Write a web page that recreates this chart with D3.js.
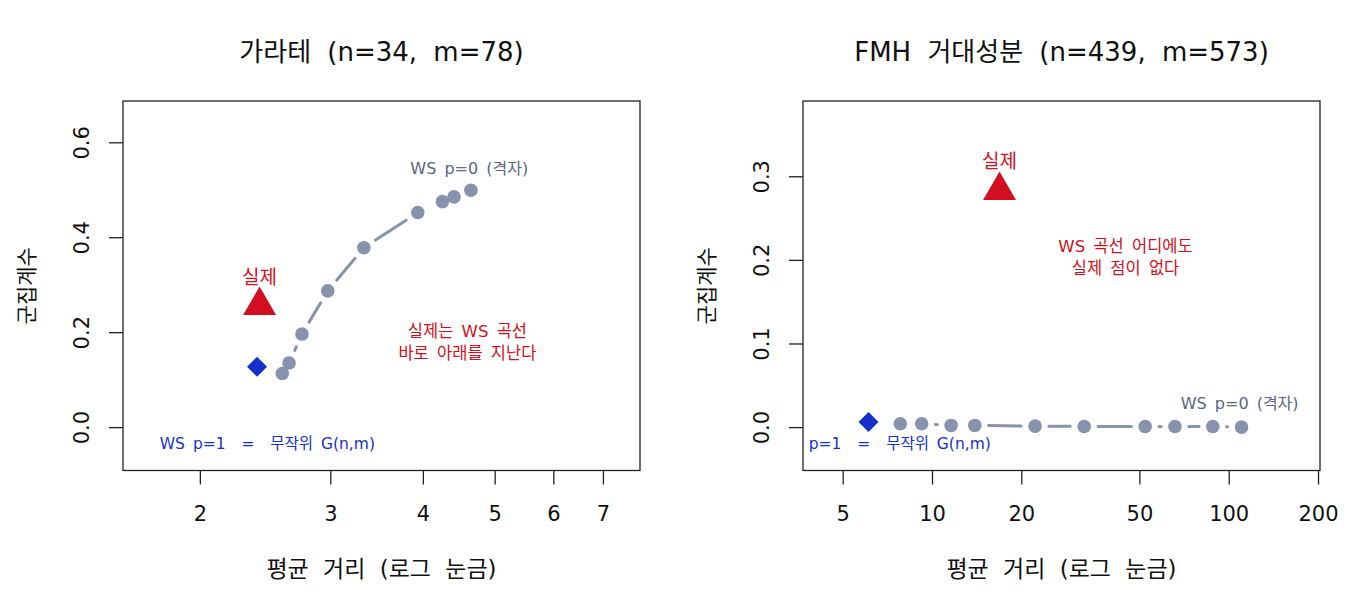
<!DOCTYPE html>
<html>
<head>
<meta charset="utf-8">
<script src="https://cdn.jsdelivr.net/npm/d3@7"></script>
<style>
  body { margin: 0; background: #fff; }
  text { font-family: "DejaVu Sans", "Noto Sans CJK KR", sans-serif; }
</style>
</head>
<body>
<div id="chart"></div>
<script>
// ---- data: karate club (left) ----
var karateWsDist = [2.584, 2.639, 2.747, 2.976, 3.330, 3.937, 4.251, 4.406, 4.644];
var karateWsClust = [0.113, 0.135, 0.196, 0.287, 0.378, 0.452, 0.475, 0.485, 0.499];
var karateRandom = [2.389, 0.127];
var karateReal = [2.408, 0.256];

// ---- data: FMH giant component (right) ----
var fmhWsDist = [7.82, 9.23, 11.60, 13.94, 22.26, 32.58, 52.3, 65.9, 88.4, 110.5];
var fmhWsClust = [0.004, 0.004, 0.002, 0.002, 0.0012, 0.0008, 0.0008, 0.0008, 0.0008, 0.0];
var fmhRandom = [6.11, 0.006];
var fmhReal = [16.89, 0.283];

// ---- tick labels ----
var karateXTicks = [2, 3, 4, 5, 6, 7];
var karateYTicks = [0.0, 0.2, 0.4, 0.6];
var fmhXTicks = [5, 10, 20, 50, 100, 200];
var fmhYTicks = [0.0, 0.1, 0.2, 0.3];

// ---- texts ----
var titles = ["가라테 (n=34, m=78)", "FMH 거대성분 (n=439, m=573)"];
var xTitle = "평균 거리 (로그 눈금)";
var yTitle = "군집계수";
var rndText = "WS p=1\u00a0\u00a0=\u00a0\u00a0무작위 G(n,m)";
var wsText = "WS p=0 (격자)";

// colours
var grey = "#8792ac";
var greyText = "#5b6580";
var red = "#d10f20";
var blue = "#1530cc";

var svg = d3.select("#chart")
    .append("svg")
    .attr("width", 1360)
    .attr("height", 600);

// one panel per graph
var panels = [
    {
        left: 123, right: 640, top: 101, bottom: 470.5,
        xDomain: [1.575, 7.855], yDomain: [-0.0914, 0.687],
        xTicks: karateXTicks, yTicks: karateYTicks,
        wsX: karateWsDist, wsY: karateWsClust,
        rnd: karateRandom, real: karateReal,
        title: titles[0],
        realLabel: [2.408, 0.317],
        wsLabel: [4.62, 0.545],
        rndLabel: [2.467, -0.0365],
        note: ["실제는 WS 곡선", "바로 아래를 지난다"],
        noteAt: [4.594, 0.1787]
    },
    {
        left: 803, right: 1320, top: 101, bottom: 470.5,
        xDomain: [3.675, 203.1], yDomain: [-0.0519, 0.390],
        xTicks: fmhXTicks, yTicks: fmhYTicks,
        wsX: fmhWsDist, wsY: fmhWsClust,
        rnd: fmhRandom, real: fmhReal,
        title: titles[1],
        realLabel: [16.89, 0.318],
        wsLabel: [108.9, 0.028],
        rndLabel: [6.85, -0.0199],
        note: ["WS 곡선 어디에도", "실제 점이 없다"],
        noteAt: [44.9, 0.2026]
    }
];

panels.forEach(function(p, i) {
    var xScale = d3.scaleLog().domain(p.xDomain).range([p.left, p.right]);
    var yScale = d3.scaleLinear().domain(p.yDomain).range([p.bottom, p.top]);
    var midX = (p.left + p.right) / 2;

    // clip to plot box
    svg.append("clipPath")
        .attr("id", "clip" + i)
        .append("rect")
        .attr("x", p.left).attr("y", p.top)
        .attr("width", p.right - p.left).attr("height", p.bottom - p.top);

    var plot = svg.append("g").attr("clip-path", "url(#clip" + i + ")");

    // WS line: like type="b", each segment stops short of the points
    var pts = p.wsX.map(function(d, j) { return [xScale(d), yScale(p.wsY[j])]; });
    var gap = 13.9;
    for (var j = 0; j < pts.length - 1; j++) {
        var a = pts[j], b = pts[j + 1];
        var dx = b[0] - a[0], dy = b[1] - a[1];
        var len = Math.sqrt(dx * dx + dy * dy);
        if (len <= 2 * gap) continue;
        var ux = dx / len, uy = dy / len;
        plot.append("line")
            .attr("x1", a[0] + ux * gap).attr("y1", a[1] + uy * gap)
            .attr("x2", b[0] - ux * gap).attr("y2", b[1] - uy * gap)
            .attr("stroke", grey)
            .attr("stroke-width", 3)
            .attr("stroke-linecap", "round");
    }

    plot.selectAll("circle.ws")
        .data(p.wsX)
        .enter()
        .append("circle")
        .attr("class", "ws")
        .attr("cx", d => xScale(d))
        .attr("cy", (d, j) => yScale(p.wsY[j]))
        .attr("r", 6.8)
        .attr("fill", grey);

    // random graph: diamond
    plot.append("path")
        .attr("d", d3.symbol().type(d3.symbolSquare).size(200)())
        .attr("transform", `translate(${xScale(p.rnd[0])}, ${yScale(p.rnd[1])}) rotate(45)`)
        .attr("fill", blue);

    // real network: triangle
    plot.append("path")
        .attr("d", d3.symbol().type(d3.symbolTriangle).size(470)())
        .attr("transform", `translate(${xScale(p.real[0])}, ${yScale(p.real[1])})`)
        .attr("fill", red);

    // labels inside the plot
    plot.append("text")
        .attr("x", xScale(p.realLabel[0]))
        .attr("y", yScale(p.realLabel[1]))
        .attr("text-anchor", "middle")
        .attr("dominant-baseline", "central")
        .attr("font-size", "19px")
        .attr("fill", red)
        .text("실제");

    plot.append("text")
        .attr("x", xScale(p.wsLabel[0]))
        .attr("y", yScale(p.wsLabel[1]))
        .attr("text-anchor", "middle")
        .attr("dominant-baseline", "central")
        .attr("font-size", "16px")
        .attr("word-spacing", "3px")
        .attr("fill", greyText)
        .text(wsText);

    plot.append("text")
        .attr("x", xScale(p.rndLabel[0]))
        .attr("y", yScale(p.rndLabel[1]))
        .attr("text-anchor", "middle")
        .attr("dominant-baseline", "central")
        .attr("font-size", "15.5px")
        .attr("word-spacing", "3px")
        .attr("fill", blue)
        .text(rndText);

    p.note.forEach(function(line, k) {
        plot.append("text")
            .attr("x", xScale(p.noteAt[0]))
            .attr("y", yScale(p.noteAt[1]) + (k - 0.5) * 21.5)
            .attr("text-anchor", "middle")
            .attr("dominant-baseline", "central")
            .attr("font-size", "16.5px")
            .attr("word-spacing", "3px")
            .attr("fill", red)
            .text(line);
    });

    // box
    svg.append("rect")
        .attr("x", p.left).attr("y", p.top)
        .attr("width", p.right - p.left).attr("height", p.bottom - p.top)
        .attr("fill", "none")
        .attr("stroke", "#222")
        .attr("stroke-width", 1.3);

    // axes
    var xAxis = d3.axisBottom(xScale)
        .tickValues(p.xTicks)
        .tickFormat(d3.format("d"))
        .tickSize(14)
        .tickPadding(22);
    var xg = svg.append("g")
        .attr("transform", `translate(0, ${p.bottom})`)
        .call(xAxis);
    xg.select(".domain").remove();

    var yAxis = d3.axisLeft(yScale)
        .tickValues(p.yTicks)
        .tickFormat(d3.format(".1f"))
        .tickSize(14);
    var yg = svg.append("g")
        .attr("transform", `translate(${p.left}, 0)`)
        .call(yAxis);
    yg.select(".domain").remove();
    yg.selectAll(".tick text")
        .attr("transform", "rotate(-90)")
        .attr("x", 0)
        .attr("y", -41)
        .attr("dy", null)
        .attr("text-anchor", "middle")
        .attr("dominant-baseline", "central");

    svg.selectAll(".tick line").attr("stroke", "#222").attr("stroke-width", 1.3);
    svg.selectAll(".tick text")
        .attr("font-family", "'DejaVu Sans', sans-serif")
        .attr("font-size", "21px")
        .attr("fill", "#111");

    // titles
    svg.append("text")
        .attr("x", midX)
        .attr("y", 52)
        .attr("text-anchor", "middle")
        .attr("dominant-baseline", "central")
        .attr("font-size", "26px")
        .attr("word-spacing", "8px")
        .attr("fill", "#111")
        .text(p.title);

    svg.append("text")
        .attr("x", midX)
        .attr("y", 569)
        .attr("text-anchor", "middle")
        .attr("dominant-baseline", "central")
        .attr("font-size", "23px")
        .attr("word-spacing", "7px")
        .attr("fill", "#111")
        .text(xTitle);

    svg.append("text")
        .attr("transform", `translate(${p.left - 96}, ${(p.top + p.bottom) / 2}) rotate(-90)`)
        .attr("text-anchor", "middle")
        .attr("dominant-baseline", "central")
        .attr("font-size", "21px")
        .attr("fill", "#111")
        .text(yTitle);
});
</script>
</body>
</html>
